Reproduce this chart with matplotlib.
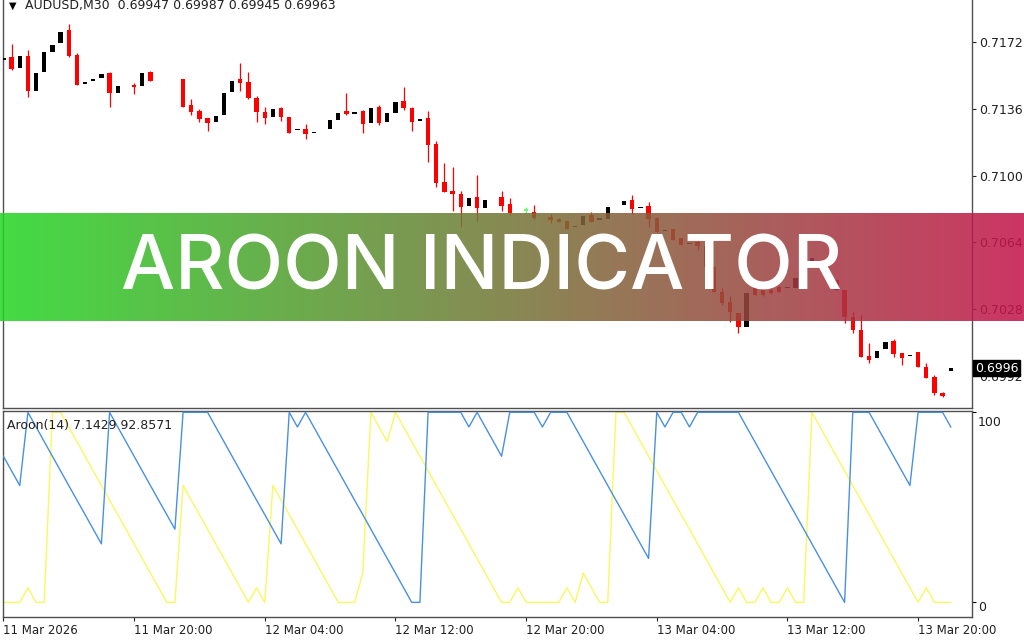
import numpy as np
import matplotlib.pyplot as plt
from matplotlib.colors import LinearSegmentedColormap

nan = np.nan

# AUDUSD M30 candles, one entry per bar (nan = bar not drawn)
opens = [0.71625, 0.71640, 0.71578, 0.71644, 0.71457, 0.71560, 0.71667, 0.71713, 0.71784, 0.71650,
         0.71495, 0.71511, 0.71524, 0.71551, 0.71446, nan, 0.71488, 0.71484, 0.71560, nan,
         nan, nan, 0.71519, 0.71380, 0.71349, 0.71308, 0.71287, 0.71326, 0.71452, 0.71519,
         0.71502, 0.71419, 0.71341, 0.71317, 0.71366, 0.71317, 0.71243, 0.71249, 0.71229, nan,
         0.71249, 0.71299, 0.71348, 0.71333, 0.71348, 0.71281, 0.71371, 0.71287, 0.71339, 0.71402,
         0.71366, 0.71294, 0.71308, 0.71170, 0.70967, 0.70917, 0.70900, 0.70836, 0.70886, 0.70826,
         nan, 0.70886, 0.70846, nan, 0.70810, 0.70805, nan, 0.70778, 0.70766, 0.70755,
         0.70721, 0.70733, 0.70787, 0.70762, 0.70766, nan, 0.70841, 0.70868, 0.70824, 0.70836,
         0.70772, 0.70701, 0.70710, 0.70662, 0.70629, 0.70643, 0.70620, 0.70509, 0.70374, 0.70318,
         0.70261, 0.70185, 0.70419, 0.70401, 0.70383, 0.70399, 0.70392, 0.70394, 0.70437, 0.70500,
         0.70526, 0.70464, 0.70437, 0.70383, 0.70239, 0.70167, 0.70027, 0.70015, 0.70063, 0.70110,
         0.70042, 0.70027, 0.70047, 0.69966, 0.69912, 0.69829, 0.69947]
highs = [0.71631, 0.71709, 0.71646, 0.71677, 0.71551, 0.71664, 0.71703, 0.71775, 0.71817, 0.71662,
         0.71500, 0.71516, 0.71546, 0.71560, 0.71484, nan, 0.71497, 0.71551, 0.71565, nan,
         nan, nan, 0.71519, 0.71412, 0.71357, 0.71308, 0.71322, 0.71446, 0.71511, 0.71605,
         0.71560, 0.71429, 0.71368, 0.71359, 0.71371, 0.71317, 0.71248, 0.71278, 0.71234, nan,
         0.71299, 0.71339, 0.71446, 0.71338, 0.71353, 0.71362, 0.71380, 0.71335, 0.71395, 0.71479,
         0.71371, 0.71299, 0.71348, 0.71188, 0.71066, 0.71045, 0.70917, 0.70880, 0.71003, 0.70868,
         nan, 0.70917, 0.70880, nan, 0.70832, 0.70841, nan, 0.70793, 0.70770, 0.70758,
         0.70725, 0.70783, 0.70802, 0.70767, 0.70829, nan, 0.70864, 0.70895, 0.70829, 0.70856,
         0.70775, 0.70704, 0.70712, 0.70664, 0.70632, 0.70652, 0.70622, 0.70511, 0.70394, 0.70348,
         0.70261, 0.70365, 0.70425, 0.70405, 0.70386, 0.70402, 0.70396, 0.70448, 0.70502, 0.70554,
         0.70530, 0.70534, 0.70440, 0.70385, 0.70266, 0.70248, 0.70099, 0.70056, 0.70104, 0.70117,
         0.70042, 0.70032, 0.70047, 0.69991, 0.69925, 0.69835, 0.69987]
lows = [0.71623, 0.71569, 0.71576, 0.71425, 0.71457, 0.71560, 0.71667, 0.71713, 0.71640, 0.71488,
        0.71494, 0.71510, 0.71524, 0.71371, 0.71446, nan, 0.71439, 0.71484, 0.71511, nan,
        nan, nan, 0.71368, 0.71326, 0.71290, 0.71241, 0.71287, 0.71326, 0.71452, 0.71457,
        0.71412, 0.71290, 0.71278, 0.71317, 0.71294, 0.71231, 0.71242, 0.71195, 0.71228, nan,
        0.71249, 0.71299, 0.71326, 0.71332, 0.71228, 0.71281, 0.71272, 0.71287, 0.71339, 0.71353,
        0.71241, 0.71293, 0.71074, 0.70940, 0.70913, 0.70810, 0.70721, 0.70836, 0.70756, 0.70826,
        nan, 0.70810, 0.70787, nan, 0.70796, 0.70768, nan, 0.70744, 0.70748, 0.70710,
        0.70720, 0.70733, 0.70748, 0.70761, 0.70766, nan, 0.70841, 0.70793, 0.70823, 0.70724,
        0.70696, 0.70700, 0.70652, 0.70628, 0.70628, 0.70598, 0.70509, 0.70374, 0.70302, 0.70210,
        0.70153, 0.70185, 0.70356, 0.70350, 0.70362, 0.70370, 0.70391, 0.70394, 0.70437, 0.70500,
        0.70525, 0.70430, 0.70383, 0.70203, 0.70150, 0.70024, 0.69991, 0.70015, 0.70063, 0.70024,
        0.69979, 0.70026, 0.69966, 0.69907, 0.69817, 0.69806, 0.69945]
closes = [0.71628, 0.71573, 0.71644, 0.71457, 0.71551, 0.71664, 0.71703, 0.71775, 0.71644, 0.71488,
          0.71499, 0.71515, 0.71546, 0.71443, 0.71484, nan, 0.71479, 0.71551, 0.71511, nan,
          nan, nan, 0.71368, 0.71344, 0.71303, 0.71281, 0.71322, 0.71446, 0.71511, 0.71497,
          0.71419, 0.71344, 0.71308, 0.71359, 0.71317, 0.71231, 0.71247, 0.71224, 0.71233, nan,
          0.71299, 0.71339, 0.71330, 0.71337, 0.71276, 0.71362, 0.71281, 0.71335, 0.71395, 0.71362,
          0.71287, 0.71298, 0.71164, 0.70961, 0.70913, 0.70899, 0.70832, 0.70880, 0.70826, 0.70868,
          nan, 0.70837, 0.70796, nan, 0.70810, 0.70770, nan, 0.70760, 0.70751, 0.70712,
          0.70723, 0.70783, 0.70748, 0.70766, 0.70829, nan, 0.70864, 0.70818, 0.70828, 0.70766,
          0.70698, 0.70703, 0.70652, 0.70628, 0.70631, 0.70618, 0.70509, 0.70374, 0.70313, 0.70264,
          0.70185, 0.70365, 0.70356, 0.70356, 0.70365, 0.70372, 0.70394, 0.70448, 0.70502, 0.70554,
          0.70529, 0.70437, 0.70383, 0.70239, 0.70167, 0.70024, 0.70006, 0.70056, 0.70104, 0.70038,
          0.70015, 0.70031, 0.69966, 0.69907, 0.69826, 0.69812, 0.69963]

# Aroon(14) lines
aroon_up = [0, 0, 0, 7.7, 0, 0, 100, 100, 92.3, 84.6,
            76.9, 69.2, 61.5, 53.8, 46.2, 38.5, 30.8, 23.1, 15.4, 7.7,
            0, 0, 61.5, 53.8, 46.2, 38.5, 30.8, 23.1, 15.4, 7.7,
            0, 7.7, 0, 61.5, 53.8, 46.2, 38.5, 30.8, 23.1, 15.4,
            7.7, 0, 0, 0, 15.4, 100, 92.3, 84.6, 100, 92.3,
            84.6, 76.9, 69.2, 61.5, 53.8, 46.2, 38.5, 30.8, 23.1, 15.4,
            7.7, 0, 0, 7.7, 0, 0, 0, 0, 0, 7.7,
            0, 15.4, 7.7, 0, 0, 100, 100, 92.3, 84.6, 76.9,
            69.2, 61.5, 53.8, 46.2, 38.5, 30.8, 23.1, 15.4, 7.7, 0,
            7.7, 0, 0, 7.7, 0, 0, 7.7, 0, 0, 100,
            92.3, 84.6, 76.9, 69.2, 61.5, 53.8, 46.2, 38.5, 30.8, 23.1,
            15.4, 7.7, 0, 7.7, 0, 0, 0]
aroon_down = [76.9, 69.2, 61.5, 100, 92.3, 84.6, 76.9, 69.2, 61.5, 53.8,
              46.2, 38.5, 30.8, 100, 92.3, 84.6, 76.9, 69.2, 61.5, 53.8,
              46.2, 38.5, 100, 100, 100, 100, 92.3, 84.6, 76.9, 69.2,
              61.5, 53.8, 46.2, 38.5, 30.8, 100, 92.3, 100, 92.3, 84.6,
              76.9, 69.2, 61.5, 53.8, 46.2, 38.5, 30.8, 23.1, 15.4, 7.7,
              0, 0, 100, 100, 100, 100, 100, 92.3, 100, 92.3,
              84.6, 76.9, 100, 100, 100, 100, 92.3, 100, 100, 100,
              92.3, 84.6, 76.9, 69.2, 61.5, 53.8, 46.2, 38.5, 30.8, 23.1,
              100, 92.3, 100, 100, 92.3, 100, 100, 100, 100, 100,
              100, 92.3, 84.6, 76.9, 69.2, 61.5, 53.8, 46.2, 38.5, 30.8,
              23.1, 15.4, 7.7, 0, 100, 100, 100, 92.3, 84.6, 76.9,
              69.2, 61.5, 100, 100, 100, 100, 92.3]

date_ticks = [0, 16, 32, 48, 64, 80, 96, 112]
date_labels = ["11 Mar 2026", "11 Mar 20:00", "12 Mar 04:00", "12 Mar 12:00",
               "12 Mar 20:00", "13 Mar 04:00", "13 Mar 12:00", "13 Mar 20:00"]
price_ticks = [0.7172, 0.7136, 0.7100, 0.7064, 0.7028, 0.6992]
last_price = 0.6996

W, H = 1024, 640
fig = plt.figure(figsize=(W / 100, H / 100), dpi=100)
fig.patch.set_facecolor("white")

def box(x0, y0, x1, y1):
    # pixel box (top-left origin) -> figure rect
    return [x0 / W, 1 - y1 / H, (x1 - x0) / W, (y1 - y0) / H]

ax = fig.add_axes(box(3, 0, 972, 408))
ax2 = fig.add_axes(box(3, 411, 972, 617), sharex=ax)

o = np.array(opens)
hi = np.array(highs)
lo = np.array(lows)
c = np.array(closes)
x = np.arange(len(o))
ok = ~np.isnan(o)

up = ok & (c > o)
dn = ok & (c < o)
eq = ok & (c == o)

red, green = "#ff0000", "#66ff66"
# wicks: bullish wicks are white in this template, so invisible
ax.vlines(x[dn], lo[dn], hi[dn], color=red, lw=0.9, zorder=2)
ax.vlines(x[eq], lo[eq], hi[eq], color=green, lw=0.9, zorder=2)
min_h = 0.00008
for m, col in [(up, "black"), (dn, red), (eq, green)]:
    bot = np.minimum(o[m], c[m])
    hgt = np.maximum(np.abs(c[m] - o[m]), min_h)
    ax.bar(x[m], hgt, bottom=bot, width=0.52, color=col, lw=0, zorder=3)

ax.set_xlim(-0.05, 118.6)
ax.set_ylim(0.69747, 0.71946)

ax.yaxis.tick_right()
ax.set_yticks(price_ticks)
ax.set_yticklabels([f"{p:.4f}" for p in price_ticks])
ax.tick_params(axis="y", direction="out", length=3, width=0.8, pad=2,
               labelsize=9, colors="#202020")
ax.tick_params(axis="x", bottom=False, labelbottom=False)
ax.spines["top"].set_visible(False)
for s in ["left", "right", "bottom"]:
    ax.spines[s].set_color("#505050")
    ax.spines[s].set_linewidth(1)

ax.text(1.003, last_price, f"{last_price:.4f}", transform=ax.get_yaxis_transform(),
        ha="left", va="center", fontsize=9, color="white", clip_on=False, zorder=10,
        bbox=dict(boxstyle="square,pad=0.12", fc="black", ec="black"))

fig.text(13 / W, 1 - 6 / H, "\u25bc", fontsize=7, ha="center", va="center", color="black")
fig.text(25 / W, 1 - 6 / H, "AUDUSD,M30  0.69947 0.69987 0.69945 0.69963",
         fontsize=9, ha="left", va="center", color="#202020")

# Aroon panel
ax2.plot(x, aroon_up, color="#f8f862", lw=1.0, zorder=2)
ax2.plot(x, aroon_down, color="#4a90e2", lw=1.0, zorder=3)
ax2.set_ylim(-7.7, 100.7)
ax2.yaxis.tick_right()
ax2.set_yticks([100, 0])
ax2.set_yticklabels([])
ax2.tick_params(axis="y", direction="out", length=3, width=0.8)
tr = ax2.get_yaxis_transform()
ax2.text(1.006, 94.9, "100", transform=tr, ha="left", va="center", fontsize=9,
         color="#202020", clip_on=False)
ax2.text(1.006, -2.5, "0", transform=tr, ha="left", va="center", fontsize=9,
         color="#202020", clip_on=False)
ax2.text(0.004, 0.93, "Aroon(14) 7.1429 92.8571", transform=ax2.transAxes,
         ha="left", va="center", fontsize=9, color="#202020")

ax2.set_xticks(date_ticks)
ax2.set_xticklabels(date_labels, ha="left")
ax2.tick_params(axis="x", direction="out", length=3, width=0.8, pad=2,
                labelsize=8.5, colors="#202020")
for s in ["left", "right", "bottom", "top"]:
    ax2.spines[s].set_color("#505050")
    ax2.spines[s].set_linewidth(1)

# title banner over the chart
band = fig.add_axes(box(0, 213, 1024, 321), zorder=20)
cmap = LinearSegmentedColormap.from_list("band", ["#25d625", "#c4144a"])
band.imshow(np.linspace(0, 1, 256).reshape(1, -1), cmap=cmap, aspect="auto",
            alpha=0.86, extent=[0, 1, 0, 1])
band.set_xlim(0, 1)
band.set_ylim(0, 1)
band.axis("off")
band.text(482 / W, 0.29, "AROON INDICATOR", ha="center", va="baseline",
          fontsize=55, color="white", family="Inter", fontweight="medium")

plt.savefig("out.png", dpi=100)
